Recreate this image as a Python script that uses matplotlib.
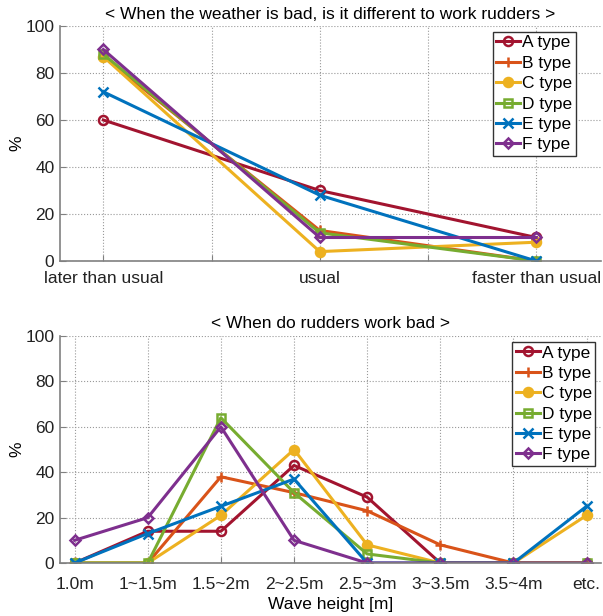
import numpy as np
import matplotlib.pyplot as plt

plt.rcParams['font.family'] = ['Liberation Sans', 'DejaVu Sans']

# Data
labels = ['A type', 'B type', 'C type', 'D type', 'E type', 'F type']
colors = ['#A2142F', '#D95319', '#EDB120', '#77AC30', '#0072BD', '#7E2F8E']

top_cats = ['later than usual', 'usual', 'faster than usual']
top_A = [60, 30, 10]
top_B = [87, 13, 0]
top_C = [87, 4, 8]
top_D = [88, 12, 0]
top_E = [72, 28, 0]
top_F = [90, 10, 10]

wave_cats = ['1.0m', '1~1.5m', '1.5~2m', '2~2.5m', '2.5~3m', '3~3.5m', '3.5~4m', 'etc.']
bot_A = [0, 14, 14, 43, 29, 0, 0, 0]
bot_B = [0, 0, 38, 31, 23, 8, 0, 0]
bot_C = [0, 0, 21, 50, 8, 0, 0, 21]
bot_D = [0, 0, 64, 31, 4, 0, 0, 0]
bot_E = [0, 13, 25, 37, 0, 0, 0, 25]
bot_F = [10, 20, 60, 10, 0, 0, 0, 0]

# marker styles per series: (marker, filled)
styles = [('o', False), ('+', True), ('o', True), ('s', False), ('x', True), ('D', False)]


def draw(ax, x, series):
    for ys, lab, c, (m, filled) in zip(series, labels, colors, styles):
        ms = 5.5 if m in ('D', 's') else 6.5
        ax.plot(x, ys, color=c, lw=2.2, marker=m, ms=ms, mew=1.8,
                mfc=c if filled else 'none', mec=c, label=lab)


def style(ax, anchor, xpad):
    ax.set_ylim(0, 100)
    ax.set_yticks(np.arange(0, 101, 20))
    ax.grid(True, ls=':', color='#999999', lw=0.8)
    for s in ['top', 'right']:
        ax.spines[s].set_visible(False)
    for s in ['left', 'bottom']:
        ax.spines[s].set_color('#808080')
        ax.spines[s].set_linewidth(1.2)
    ax.tick_params(direction='in', color='#808080', labelsize=12.5, labelcolor='#222222', length=4)
    ax.tick_params(axis='x', pad=xpad)
    ax.tick_params(axis='y', pad=4)
    ax.set_ylabel('%', fontsize=12.5, labelpad=1)
    leg = ax.legend(loc='upper right', bbox_to_anchor=anchor, fontsize=12.5, fancybox=False,
                    framealpha=1, edgecolor='#333333', handlelength=1.4, handletextpad=0.1,
                    borderpad=0.2, labelspacing=0.3, borderaxespad=0)
    leg.get_frame().set_linewidth(1.0)


fig = plt.figure(figsize=(6.03, 6.16), dpi=100)

ax1 = fig.add_axes([0.0995, 0.5763, 0.8975, 0.3815])
x1 = np.arange(1, len(top_cats) + 1)
draw(ax1, x1, [top_A, top_B, top_C, top_D, top_E, top_F])
ax1.set_xlim(0.8, 3.3)
ax1.set_xticks(np.arange(1, 3.01, 0.5))
ax1.set_xticklabels([top_cats[0], '', top_cats[1], '', top_cats[2]])
style(ax1, (0.953, 0.975), 7)
ax1.set_title('< When the weather is bad, is it different to work rudders >', fontsize=12.5, pad=5)

ax2 = fig.add_axes([0.0995, 0.086, 0.8975, 0.3685])
x2 = np.arange(1, len(wave_cats) + 1)
draw(ax2, x2, [bot_A, bot_B, bot_C, bot_D, bot_E, bot_F])
ax2.set_xlim(0.8, 8.2)
ax2.set_xticks(x2)
ax2.set_xticklabels(wave_cats)
style(ax2, (0.989, 0.974), 10)
ax2.set_xlabel('Wave height [m]', fontsize=12.5, labelpad=4)
ax2.set_title('< When do rudders work bad >', fontsize=12.5, pad=6)

fig.savefig('out.png', dpi=100)
